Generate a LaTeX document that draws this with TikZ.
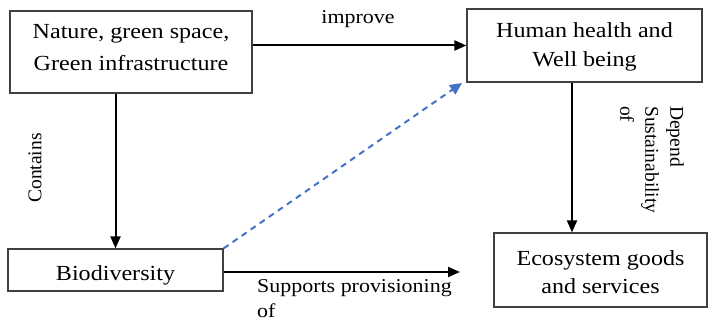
\documentclass[tikz,border=0pt]{standalone}
\usepackage{fontspec}
\setmainfont{Liberation Serif}[FakeStretch=1.12]
\newfontfamily\sidefont{Liberation Serif}
\usetikzlibrary{positioning,arrows.meta}
\definecolor{dashblue}{RGB}{68,114,196}

\begin{document}
\begin{tikzpicture}
		[x=1pt,y=-1pt,
		box/.style={rectangle,draw=black!75,line width=1.2pt,inner sep=0pt,align=center,font=\fontsize{21.5}{#1}\selectfont},
		box/.default=32,
		lbl/.style={inner sep=0pt,font=\fontsize{19.6}{25}\selectfont},
		sidelbl/.style={inner sep=0pt,align=left,font=\sidefont\fontsize{19.5}{25}\selectfont},
		link/.style={line width=2pt,-{Triangle[length=12pt,width=10pt]}},
		hint/.style={dashblue,line width=2pt,dash pattern=on 6pt off 5pt,-{Triangle[length=12pt,width=11pt]}}]
		\useasboundingbox (0,0) rectangle (709,320);

		\node [box,minimum width=242pt,minimum height=82pt,text height=44pt,text depth=6pt] (nature) at (131,52) {Nature, green space,\\Green infrastructure};
		\node [box=29,minimum width=235pt,minimum height=73pt,text height=48pt,text depth=5pt] (health) at (584.5,45.5) {Human health and\\Well being};
		\node [box,minimum width=215pt,minimum height=42pt,text height=20pt,text depth=0pt] (bio) at (115.5,270) {Biodiversity};
		\node [box=28,minimum width=213pt,minimum height=74pt,text height=51pt,text depth=5pt] (eco) at (600.5,270) {Ecosystem goods\\and services};

		\node [lbl] (improve) at (358,19) {improve};
		\node [sidelbl,rotate=90] (contains) at (35,168) {Contains};
		\node [sidelbl,rotate=-90,anchor=north west] (depend) at (684,106) {Depend\\Sustainability\\of};
		\node [lbl,align=left,anchor=north west] (supports) at (257,279) {Supports provisioning\\of};

		\coordinate (supend) at (460,272);
		\coordinate (dashend) at (462,83);

		\draw [link] (nature.east |- health.west) -- (health.west);
		\draw [link] (bio.north |- nature.south) -- (bio.north);
		\draw [link] ([xshift=-12.5pt]health.south) -- ([xshift=-12.5pt]health.south |- eco.north);
		\draw [link] (bio.east |- supend) -- (supend);
		\draw [hint] (bio.north east) -- (dashend);

	\end{tikzpicture}
\end{document}
